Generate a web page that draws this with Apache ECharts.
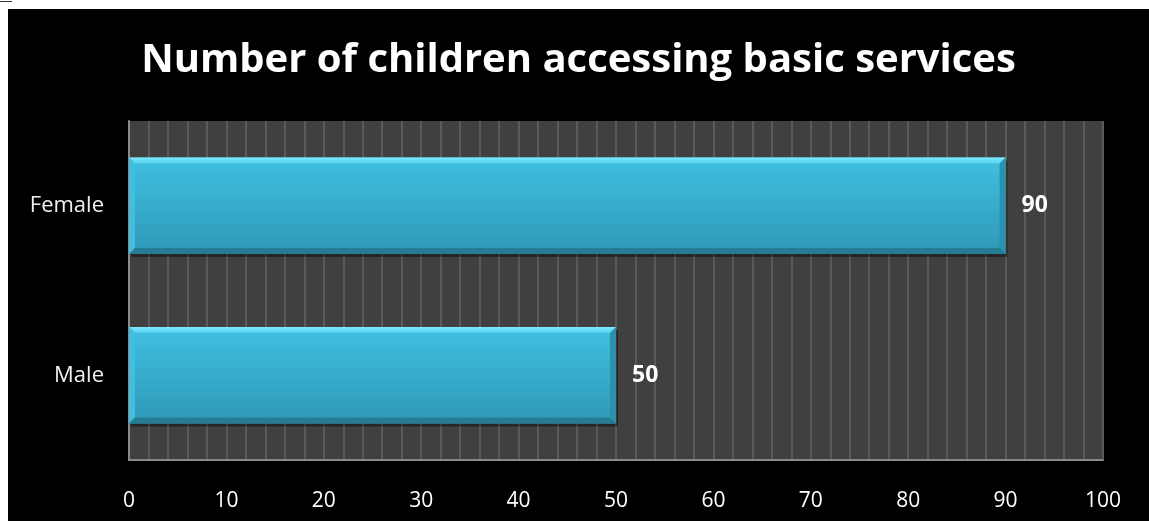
<!DOCTYPE html>
<html>
<head>
<meta charset="utf-8">
<script src="https://cdn.jsdelivr.net/npm/echarts@6/dist/echarts.min.js"></script>
<style>
  html, body { margin: 0; padding: 0; background: #ffffff; }
  body { width: 1149px; height: 521px; position: relative; overflow: hidden; }
  #mark { position: absolute; left: 0; top: 1px; width: 12px; height: 1px; background: #333; }
  #chart { position: absolute; left: 8px; top: 9px; width: 1141px; height: 512px; background: #000; }
</style>
</head>
<body>
<div id="mark"></div>
<div id="chart"></div>
<script>
// Chart content
const titleText = 'Number of children accessing basic services';
const categories = ['Male', 'Female'];
const values = [50, 90];
const axisMin = 0;
const axisMax = 100;
const axisStep = 10;

const chart = echarts.init(document.getElementById('chart'), null, { renderer: 'canvas' });

// Bevelled horizontal bar, laid out from the axis coordinates
function renderBevelBar(params, api) {
  const cat = api.value(1);
  const val = api.value(0);
  const start = api.coord([axisMin, cat]);
  const end = api.coord([val, cat]);
  const h = api.size([0, 1])[1] * 0.57;
  const x0 = start[0], x1 = end[0];
  const y0 = start[1] - h / 2, y1 = start[1] + h / 2;
  const b = 6;
  return {
    type: 'group',
    children: [
      { type: 'rect', shape: { x: x0 + 2, y: y0 + 3, width: x1 - x0, height: h },
        style: { fill: 'rgba(0,0,0,0.4)' } },
      { type: 'rect', shape: { x: x0, y: y0, width: x1 - x0, height: h },
        style: { fill: new echarts.graphic.LinearGradient(0, 0, 0, 1, [
          { offset: 0, color: '#3fc0e2' },
          { offset: 1, color: '#2f98b6' }
        ]) } },
      { type: 'polygon', shape: { points: [[x0, y0], [x1, y0], [x1 - b, y0 + b], [x0 + b, y0 + b]] },
        style: { fill: new echarts.graphic.LinearGradient(0, 0, 0, 1, [
          { offset: 0, color: '#80e9fc' },
          { offset: 1, color: '#52d0f0' }
        ]) } },
      { type: 'polygon', shape: { points: [[x0, y0], [x0 + b, y0 + b], [x0 + b, y1 - b], [x0, y1]] },
        style: { fill: '#42bfe0' } },
      { type: 'polygon', shape: { points: [[x1, y0], [x1, y1], [x1 - b, y1 - b], [x1 - b, y0 + b]] },
        style: { fill: '#2d90ad' } },
      { type: 'polygon', shape: { points: [[x0, y1], [x0 + b, y1 - b], [x1 - b, y1 - b], [x1, y1]] },
        style: { fill: '#267c94' } },
      { type: 'text', x: x1 + 16, y: start[1],
        style: { text: String(val), fill: '#ffffff', fontSize: 23, fontWeight: 'bold',
                 fontFamily: 'Open Sans', verticalAlign: 'middle', align: 'left' } }
    ]
  };
}

chart.setOption({
  backgroundColor: '#000000',
  animation: false,
  title: {
    text: titleText,
    left: 'center',
    top: 27,
    textStyle: { color: '#ffffff', fontSize: 40, fontWeight: 'bold', fontFamily: 'Open Sans' }
  },
  grid: {
    left: 121, right: 46, top: 112, bottom: 61,
    show: true, backgroundColor: '#404040', borderWidth: 0
  },
  xAxis: {
    type: 'value',
    min: axisMin, max: axisMax, interval: axisStep,
    axisLine: { show: true, lineStyle: { color: '#8a8a8a', width: 2 } },
    axisTick: { show: false },
    axisLabel: { color: '#ffffff', fontSize: 21, fontFamily: 'Open Sans', margin: 31 },
    splitLine: { show: true, lineStyle: { color: '#5a5a5a', width: 2 } },
    minorTick: { show: false, splitNumber: 5 },
    minorSplitLine: { show: true, lineStyle: { color: '#5a5a5a', width: 2 } }
  },
  yAxis: {
    type: 'category',
    data: categories,
    axisLine: { show: true, lineStyle: { color: '#8a8a8a', width: 2 } },
    axisTick: { show: false },
    axisLabel: { color: '#f0f0f0', fontSize: 22, fontFamily: 'Open Sans', margin: 25 },
    splitLine: { show: false }
  },
  series: [{
    type: 'custom',
    renderItem: renderBevelBar,
    encode: { x: 0, y: 1 },
    data: values.map((v, i) => [v, i])
  }]
});
</script>
</body>
</html>
